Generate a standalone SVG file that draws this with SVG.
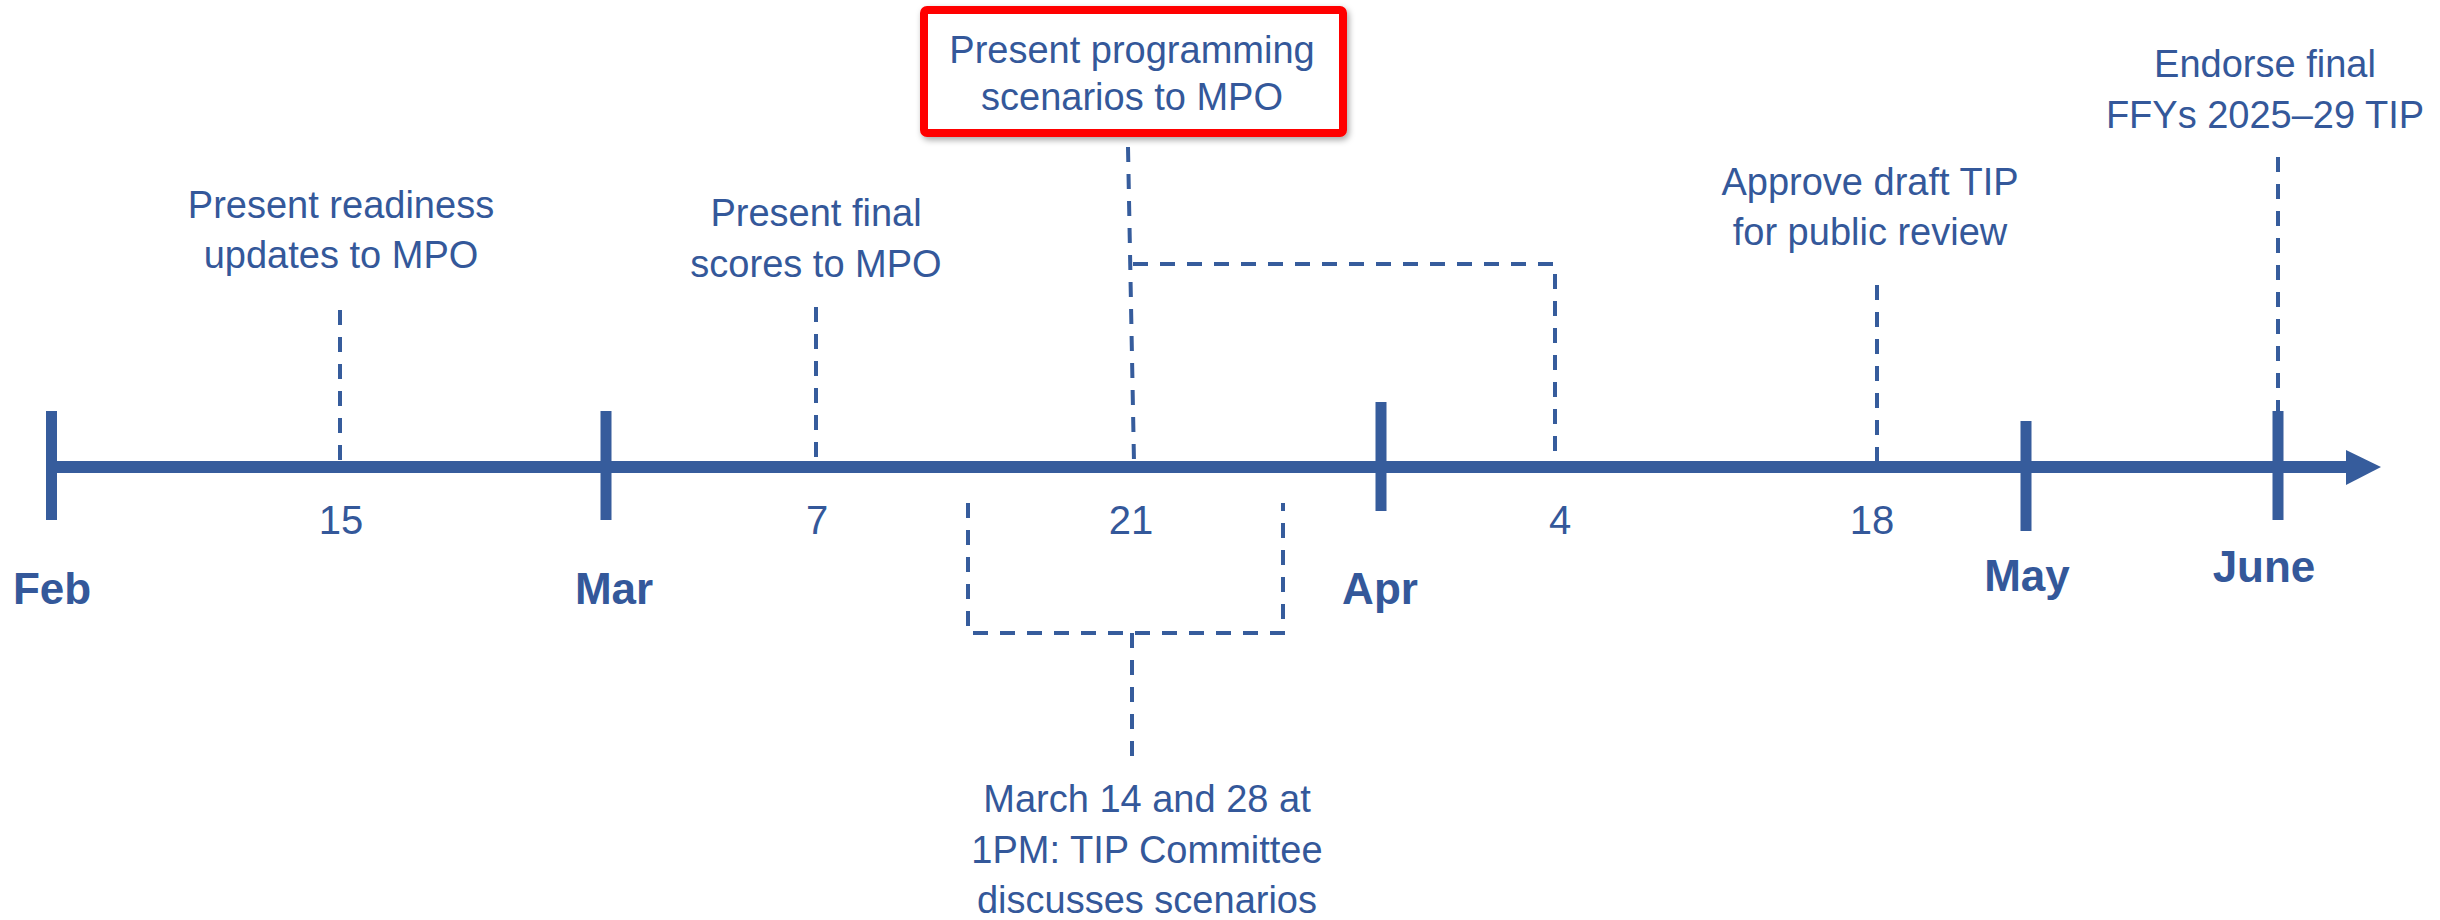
<svg xmlns="http://www.w3.org/2000/svg" width="2440" height="920" viewBox="0 0 2440 920">
<defs>
<style>
.t{font-family:"Liberation Sans",Arial,sans-serif;font-size:38px;fill:#34589A;text-anchor:middle}
.d{font-family:"Liberation Sans",Arial,sans-serif;font-size:40px;fill:#34589A;text-anchor:middle}
.m{font-family:"Liberation Sans",Arial,sans-serif;font-size:44px;font-weight:bold;fill:#34589A;text-anchor:middle}
.dash{fill:none;stroke:#365C9C;stroke-width:4;stroke-dasharray:15 12}
.tick{stroke:#365C9C;stroke-width:11}
</style>
<filter id="sh" x="-10%" y="-20%" width="120%" height="150%">
<feDropShadow dx="2" dy="3" stdDeviation="3" flood-color="#000" flood-opacity="0.35"/>
</filter>
</defs>
<rect width="2440" height="920" fill="#fff"/>
<g id="connectors">
<path class="dash" d="M340 310 V462"/>
<path class="dash" d="M816 307 V462"/>
<path class="dash" d="M1877 285 V462"/>
<path class="dash" d="M2278 157 V411"/>
<path class="dash" d="M1128 147 L1134 462"/>
<path class="dash" d="M1133 264 H1555 V467"/>
<path class="dash" d="M968 503 V633 H1283 V503"/>
<path class="dash" d="M1132 633 V757"/>
</g>
<g id="timeline">
<line x1="46" y1="467" x2="2350" y2="467" stroke="#365C9C" stroke-width="12"/>
<polygon points="2346,450 2381,467 2346,485" fill="#365C9C"/>
<line class="tick" x1="51.5" y1="411" x2="51.5" y2="520"/>
<line class="tick" x1="606" y1="411" x2="606" y2="520"/>
<line class="tick" x1="1381" y1="402" x2="1381" y2="511"/>
<line class="tick" x1="2026" y1="421" x2="2026" y2="531"/>
<line class="tick" x1="2278" y1="411" x2="2278" y2="520"/>
</g>
<g id="months">
<text class="m" x="52" y="604">Feb</text>
<text class="m" x="614" y="604">Mar</text>
<text class="m" x="1380" y="604">Apr</text>
<text class="m" x="2027" y="591">May</text>
<text class="m" x="2264" y="582">June</text>
</g>
<g id="days">
<text class="d" x="341" y="534">15</text>
<text class="d" x="817" y="534">7</text>
<text class="d" x="1131" y="534">21</text>
<text class="d" x="1560" y="534">4</text>
<text class="d" x="1872" y="534">18</text>
</g>
<g id="node-readiness">
<text class="t" x="341" y="218">Present readiness</text>
<text class="t" x="341" y="268">updates to MPO</text>
</g>
<g id="node-final-scores">
<text class="t" x="816" y="226">Present final</text>
<text class="t" x="816" y="277">scores to MPO</text>
</g>
<g id="node-scenarios">
<rect x="924" y="10" width="419" height="123" rx="3" fill="#fff" stroke="#FF0000" stroke-width="8" filter="url(#sh)"/>
<text class="t" x="1132" y="63">Present programming</text>
<text class="t" x="1132" y="110">scenarios to MPO</text>
</g>
<g id="node-approve">
<text class="t" x="1870" y="195">Approve draft TIP</text>
<text class="t" x="1870" y="245">for public review</text>
</g>
<g id="node-endorse">
<text class="t" x="2265" y="77">Endorse final</text>
<text class="t" x="2265" y="128">FFYs 2025–29 TIP</text>
</g>
<g id="node-committee">
<text class="t" x="1147" y="812">March 14 and 28 at</text>
<text class="t" x="1147" y="863">1PM: TIP Committee</text>
<text class="t" x="1147" y="913">discusses scenarios</text>
</g>
</svg>
